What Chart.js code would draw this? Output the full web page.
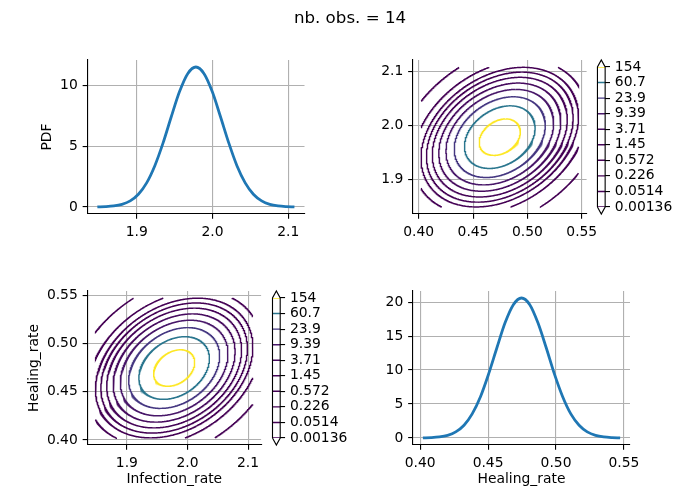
<!DOCTYPE html>
<html><head><meta charset="utf-8">
<script src="https://cdn.jsdelivr.net/npm/chart.js@4.4.0/dist/chart.umd.min.js"></script>
<style>
html,body{margin:0;padding:0;background:#fff;}
#wrap{position:relative;width:700px;height:500px;overflow:hidden;background:#fff;}
#wrap canvas{position:absolute;left:0;top:0;}
</style></head><body>
<div id="wrap">
<canvas id="cA" width="700" height="500"></canvas>
<canvas id="cB" width="700" height="500"></canvas>
<canvas id="cCB1" width="700" height="500"></canvas>
<canvas id="cC" width="700" height="500"></canvas>
<canvas id="cCB2" width="700" height="500"></canvas>
<canvas id="cD" width="700" height="500"></canvas>
</div>
<script>
// ---------------- data ----------------
const figureTitle = 'nb. obs. = 14';
const infectionX = [1.8480,1.8588,1.8697,1.8805,1.8914,1.9022,1.9131,1.9239,1.9348,1.9456,1.9564,1.9673,1.9781,
                    1.9889,1.9998,2.0106,2.0215,2.0323,2.0432,2.0540,2.0649,2.0757,2.0865,2.0974,2.1082];
const infectionPDF = [0.010,0.031,0.087,0.220,0.505,1.051,1.983,3.393,5.265,7.411,9.460,10.952,11.50,
                      10.952,9.460,7.411,5.265,3.393,1.983,1.051,0.505,0.220,0.087,0.031,0.010];
const healingX = [0.4020,0.4081,0.4141,0.4202,0.4262,0.4323,0.4383,0.4444,0.4504,0.4565,0.4625,0.4686,0.4746,
                  0.4807,0.4867,0.4928,0.4988,0.5049,0.5109,0.5170,0.5230,0.5291,0.5351,0.5412,0.5472];
const healingPDF = [0.018,0.056,0.156,0.395,0.905,1.882,3.551,6.077,9.431,13.275,16.946,19.617,20.60,
                    19.617,16.946,13.275,9.431,6.077,3.551,1.882,0.905,0.395,0.156,0.056,0.018];
// contour levels (bottom -> top of the colour bar) and their tick labels
const contourLevels = [0.00136,0.0514,0.226,0.572,1.45,3.71,9.39,23.9,60.7,154];
const contourLabels = ['0.00136','0.0514','0.226','0.572','1.45','3.71','9.39','23.9','60.7','154'];
// bivariate normal: [Infection_rate, Healing_rate]
const gaussMean = [1.978, 0.4746];
const gaussStd = [0.0347, 0.01936];
const gaussCorr = [0.30];
const gridInfection = [1.848, 2.108];
const gridHealing = [0.402, 0.5472];
// tick values
const infectionTicks = [1.9, 2.0, 2.1];
const healingTicks = [0.40, 0.45, 0.50, 0.55];
const pdfInfTicks = [0, 5, 10];
const pdfHealTicks = [0, 5, 10, 15, 20];

// ---------------- styles ----------------
const levelColors = ['#440154','#440154','#440154','#440154','#450457','#460b5e','#481769','#453781','#2a768e','#fde725'];
const FONT = {family: "'DejaVu Sans', sans-serif", size: 13.89};
const BLUE = '#1f77b4';
const CONTOUR_W = 1.45;
const f0 = v => String(v);
const f1 = v => Number(v).toFixed(1);
const f2 = v => Number(v).toFixed(2);
const RANGE_INF = [1.835, 2.1215];
const RANGE_HEAL = [0.39474, 0.55446];

function axis(pos, min, max, ticks, fmt, size, title, titlePad) {
  return {
    type: 'linear', position: pos, min: min, max: max,
    afterBuildTicks: s => { s.ticks = ticks.map(v => ({value: v})); },
    afterFit: s => { if (pos === 'left' || pos === 'right') s.width = size; else s.height = size; },
    ticks: {font: FONT, color: '#000', padding: 4.86, callback: v => fmt(v), maxRotation: 0, autoSkip: false},
    grid: {color: '#b0b0b0', lineWidth: 1.11, tickColor: '#000', tickWidth: 1.11, tickLength: 4.86, drawTicks: true},
    border: {display: true, color: '#000', width: 1.11},
    title: title ? {display: true, text: title, font: FONT, color: '#000', padding: titlePad} : {display: false}
  };
}
function pad(a, yW, xH) {
  return {left: a.l - yW, right: 700 - a.r, top: a.t, bottom: 500 - a.b - xH};
}
const baseOpts = {responsive: false, animation: false, devicePixelRatio: 1, events: [],
  plugins: {legend: {display: false}, tooltip: {enabled: false}}};

const suptitle = {
  id: 'suptitle',
  afterDraw(chart) {
    const ctx = chart.ctx;
    ctx.save();
    ctx.font = "16.67px 'DejaVu Sans', sans-serif";
    ctx.fillStyle = '#000';
    ctx.textAlign = 'center';
    ctx.textBaseline = 'alphabetic';
    ctx.fillText(figureTitle, 350, 22.7);
    ctx.restore();
  }
};

function pdfChart(id, area, xs, ys, xr, xt, xf, yr, yt, yTitle, yTitlePad, xTitle, xTitlePad, extraPlugins) {
  return new Chart(document.getElementById(id), {
    type: 'scatter',
    data: {datasets: [{data: xs.map((x, i) => ({x: x, y: ys[i]})), showLine: true, borderColor: BLUE,
      borderWidth: 2.78, pointRadius: 0, cubicInterpolationMode: 'monotone', fill: false}]},
    options: Object.assign({}, baseOpts, {
      layout: {padding: pad(area, 70, 50)},
      scales: {
        x: axis('bottom', xr[0], xr[1], xt, xf, 50, xTitle, xTitlePad),
        y: axis('left', yr[0], yr[1], yt, f0, 70, yTitle, yTitlePad)
      }
    }),
    plugins: extraPlugins || []
  });
}

// contour line of the bivariate normal at a density level, clipped to the grid box
function contourLine(level, xi, yi) {
  const rho = gaussCorr[0];
  const s = Math.sqrt(1 - rho * rho);
  const fmax = 1 / (2 * Math.PI * gaussStd[0] * gaussStd[1] * s);
  const r = Math.sqrt(2 * Math.log(fmax / level));
  const pts = [];
  const N = 1400;
  for (let k = 0; k <= N; k++) {
    const t = 2 * Math.PI * k / N;
    const z0 = r * Math.cos(t);
    const z1 = r * (rho * Math.cos(t) + s * Math.sin(t));
    const v = [gaussMean[0] + gaussStd[0] * z0, gaussMean[1] + gaussStd[1] * z1];
    const inside = v[0] >= gridInfection[0] && v[0] <= gridInfection[1] && v[1] >= gridHealing[0] && v[1] <= gridHealing[1];
    pts.push({x: v[xi], y: inside ? v[yi] : null});
  }
  return pts;
}
function contourChart(id, area, xi, yi, xr, xt, xf, yr, yt, yf, yTitle, yTitlePad, xTitle, xTitlePad) {
  const datasets = contourLevels.map((L, i) => ({
    data: contourLine(L, xi, yi), showLine: true, borderColor: levelColors[i], borderWidth: CONTOUR_W,
    pointRadius: 0, spanGaps: false, fill: false, tension: 0
  }));
  return new Chart(document.getElementById(id), {
    type: 'scatter',
    data: {datasets: datasets},
    options: Object.assign({}, baseOpts, {
      layout: {padding: pad(area, 70, 50)},
      scales: {
        x: axis('bottom', xr[0], xr[1], xt, xf, 50, xTitle, xTitlePad),
        y: axis('left', yr[0], yr[1], yt, yf, 70, yTitle, yTitlePad)
      }
    })
  });
}
function colorbar(id, area) {
  const n = contourLevels.length - 1;
  const ext = 0.45;
  const datasets = contourLevels.map((L, i) => ({
    data: [{x: 0, y: i}, {x: 1, y: i}], showLine: true, borderColor: levelColors[i], borderWidth: CONTOUR_W, pointRadius: 0
  }));
  datasets.unshift({
    data: [{x: 0, y: 0}, {x: 0, y: n}, {x: 0.5, y: n + ext}, {x: 1, y: n}, {x: 1, y: 0}, {x: 0.5, y: -ext}, {x: 0, y: 0}],
    showLine: true, borderColor: '#000', borderWidth: 1.11, pointRadius: 0, clip: false, fill: false
  });
  const W = 70;
  return new Chart(document.getElementById(id), {
    type: 'scatter',
    data: {datasets: datasets},
    options: Object.assign({}, baseOpts, {
      layout: {padding: {left: area.l, right: 700 - area.r - W, top: area.t, bottom: 500 - area.b}},
      scales: {
        x: {type: 'linear', min: 0, max: 1, display: false},
        y: {type: 'linear', position: 'right', min: 0, max: n,
          afterBuildTicks: s => { s.ticks = contourLevels.map((L, i) => ({value: i})); },
          afterFit: s => { s.width = W; },
          ticks: {font: FONT, color: '#000', padding: 4.86, autoSkip: false, callback: (v, i) => contourLabels[i]},
          grid: {drawOnChartArea: false, drawTicks: true, tickLength: 4.86, tickColor: '#000', tickWidth: 1.11, color: '#000', lineWidth: 1.11},
          border: {display: false}
        }
      }
    })
  });
}

const areaA = {l: 87.5, r: 304.5, t: 60, b: 214};
const areaB = {l: 413, r: 586.6, t: 60, b: 214};
const areaCB1 = {l: 597.45, r: 605.15, t: 67, b: 207};
const areaC = {l: 87.5, r: 261.1, t: 291, b: 445};
const areaCB2 = {l: 272.5, r: 280.2, t: 298, b: 438};
const areaD = {l: 413, r: 630, t: 291, b: 445};

pdfChart('cA', areaA, infectionX, infectionPDF, RANGE_INF, infectionTicks, f1, [-0.575, 12.075], pdfInfTicks,
  'PDF', {top: 21.9, bottom: 0}, null, null, [suptitle]);
contourChart('cB', areaB, 1, 0, RANGE_HEAL, healingTicks, f2, RANGE_INF, infectionTicks, f1, null, null, null, null);
colorbar('cCB1', areaCB1);
contourChart('cC', areaC, 0, 1, RANGE_INF, infectionTicks, f1, RANGE_HEAL, healingTicks, f2,
  'Healing_rate', {top: 8.9, bottom: 0}, 'Infection_rate', {top: 0, bottom: 7.2});
colorbar('cCB2', areaCB2);
pdfChart('cD', areaD, healingX, healingPDF, RANGE_HEAL, healingTicks, f2, [-1.03, 21.63], pdfHealTicks,
  null, null, 'Healing_rate', {top: 0, bottom: 7.2});
</script>
</body></html>
